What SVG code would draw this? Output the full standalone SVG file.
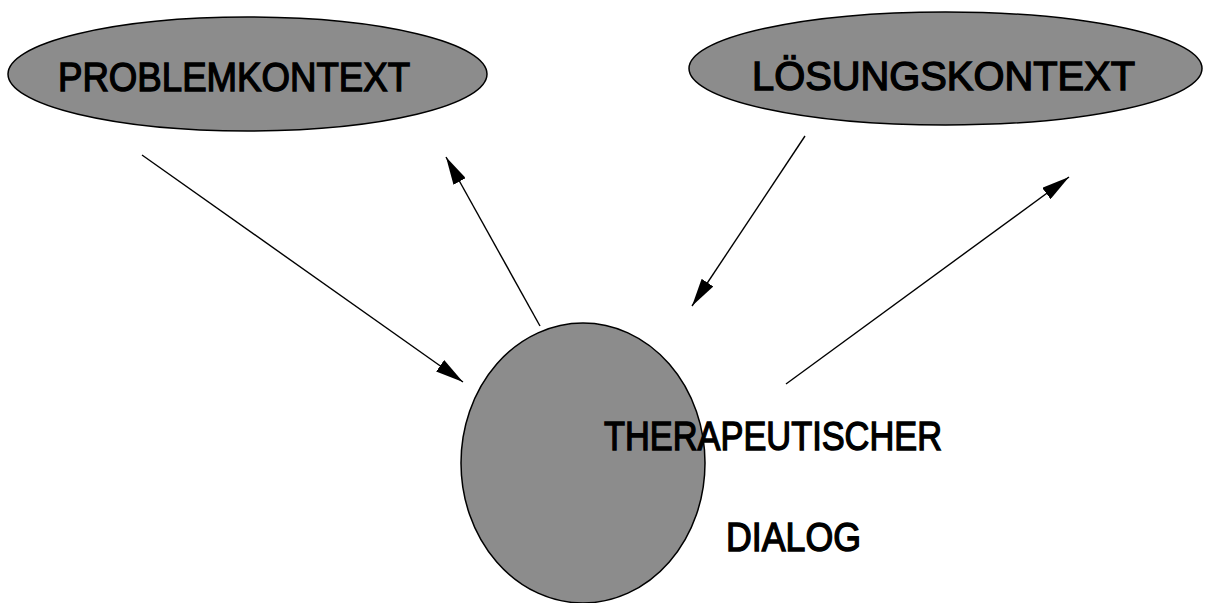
<svg xmlns="http://www.w3.org/2000/svg" width="1220" height="603" viewBox="0 0 1220 603">
<style>
.node{fill:#8c8c8c;stroke:#000;stroke-width:1.5}
.lbl{font-family:"Liberation Sans",Arial,sans-serif;font-size:41px;fill:#000;stroke:#000;stroke-width:1.4}
.edge{stroke:#000;stroke-width:1.4;fill:none;marker-end:url(#ah)}
</style>
<defs>
<marker id="ah" markerUnits="userSpaceOnUse" viewBox="0 0 28 14" markerWidth="28" markerHeight="14" refX="28" refY="7" orient="auto">
<path d="M0,0 L28,7 L0,14 z" fill="#000"/>
</marker>
</defs>
<rect width="1220" height="603" fill="#fff"/>
<g id="problemkontext">
<ellipse class="node" cx="247.5" cy="74" rx="239.5" ry="57"/>
<text class="lbl" x="58" y="91" textLength="352" lengthAdjust="spacingAndGlyphs">PROBLEMKONTEXT</text>
</g>
<g id="loesungskontext">
<ellipse class="node" cx="945.5" cy="68.5" rx="256.5" ry="56.5"/>
<text class="lbl" x="752" y="90" textLength="383" lengthAdjust="spacingAndGlyphs">LÖSUNGSKONTEXT</text>
</g>
<g id="dialog">
<ellipse class="node" cx="583" cy="463" rx="122" ry="140"/>
<text class="lbl" x="604" y="450" textLength="338" lengthAdjust="spacingAndGlyphs">THERAPEUTISCHER</text>
<text class="lbl" x="726" y="551" textLength="135" lengthAdjust="spacingAndGlyphs">DIALOG</text>
</g>
<g id="connectors">
<line class="edge" x1="142" y1="155" x2="463" y2="382"/>
<line class="edge" x1="540" y1="326" x2="446" y2="157"/>
<line class="edge" x1="805" y1="136" x2="692" y2="306"/>
<line class="edge" x1="786" y1="384" x2="1069" y2="177"/>
</g>
</svg>
